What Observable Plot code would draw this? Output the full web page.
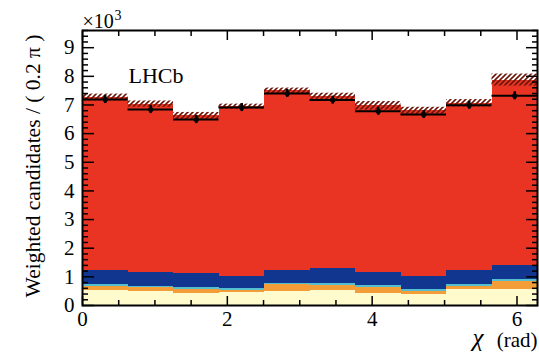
<!DOCTYPE html>
<html><head><meta charset="utf-8">
<script src="https://cdn.jsdelivr.net/npm/d3@7"></script>
<script src="https://cdn.jsdelivr.net/npm/@observablehq/plot@0.6"></script>
<style>body{margin:0;background:#fff} svg{display:block}</style>
</head><body><div id="chart"></div>
<script>
// chi bins of width 0.2*pi, values in units of 10^3
const binWidth = 0.2 * Math.PI;
const binIndex = [0,1,2,3,4,5,6,7,8,9];
const creamVals  = [0.53, 0.48, 0.43, 0.45, 0.48, 0.54, 0.41, 0.40, 0.55, 0.56];
const orangeVals = [0.14, 0.16, 0.12, 0.08, 0.25, 0.17, 0.23, 0.08, 0.11, 0.27];
const cyanVals   = [0.06, 0.04, 0.07, 0.06, 0.05, 0.05, 0.05, 0.07, 0.06, 0.07];
const blueVals   = [0.49, 0.46, 0.48, 0.43, 0.44, 0.52, 0.47, 0.46, 0.50, 0.50];
const fitTotal   = [7.26, 7.03, 6.62, 6.94, 7.49, 7.30, 6.97, 6.80, 7.06, 7.87];
const fitErr     = [0.12, 0.11, 0.12, 0.09, 0.10, 0.11, 0.15, 0.12, 0.13, 0.21];
const dataVals   = [7.19, 6.84, 6.49, 6.91, 7.40, 7.17, 6.78, 6.67, 6.99, 7.32];
const dataErr    = [0.14, 0.14, 0.14, 0.14, 0.14, 0.14, 0.14, 0.14, 0.14, 0.14];
const yMajor = [0,1,2,3,4,5,6,7,8,9];
const xMajor = [0,2,4,6];
const xMinor = [0.5,1,1.5,2.5,3,3.5,4.5,5,5.5];
const yMinor = d3.range(0, 9.61, 0.2).map(v => +v.toFixed(1)).filter(v => !Number.isInteger(v));
const layerColors = ["#fffbcc", "#f29d38", "#55bfd0", "#10368f"];
const fitColor = "#e93424";

const layerVals = [creamVals, orangeVals, cyanVals, blueVals];
const layers = layerVals.map(() => []);
const redRows = [], pts = [];
binIndex.forEach(i => {
  let base = 0;
  const x1 = i * binWidth, x2 = (i + 1) * binWidth;
  layerVals.forEach((arr, k) => {
    layers[k].push({x1, x2, y1: base, y2: base + arr[i]});
    base += arr[i];
  });
  redRows.push({x1, x2, y1: base, y2: fitTotal[i], h1: fitTotal[i] - fitErr[i], h2: fitTotal[i] + fitErr[i]});
  pts.push({x1, x2, xc: (x1 + x2) / 2, v: dataVals[i], lo: dataVals[i] - dataErr[i], hi: dataVals[i] + dataErr[i]});
});

const tickAxes = [];
for (const anchor of ["left", "right"]) {
  tickAxes.push(Plot.axisY(yMajor, {anchor, tickSize: -12, fill: "none", strokeWidth: 1.5, label: null}));
  tickAxes.push(Plot.axisY(yMinor, {anchor, tickSize: -6, fill: "none", strokeWidth: 1.5, label: null}));
}
for (const anchor of ["bottom", "top"]) {
  tickAxes.push(Plot.axisX(xMajor, {anchor, tickSize: -9, fill: "none", strokeWidth: 1.5, label: null}));
  tickAxes.push(Plot.axisX(xMinor, {anchor, tickSize: -5, fill: "none", strokeWidth: 1.5, label: null}));
}

const chart = Plot.plot({
  width: 539, height: 352,
  marginLeft: 82, marginRight: 2, marginTop: 30, marginBottom: 47,
  x: {domain: [0, 2 * Math.PI]},
  y: {domain: [0, 9.6]},
  style: {fontFamily: "Liberation Serif", fontSize: "20px", color: "black", background: "white"},
  marks: [
    ...layers.map((rows, k) => Plot.rect(rows, {x1: "x1", x2: "x2", y1: "y1", y2: "y2", fill: layerColors[k], shapeRendering: "crispEdges"})),
    Plot.rect(redRows, {x1: "x1", x2: "x2", y1: "y1", y2: "y2", fill: fitColor, shapeRendering: "crispEdges"}),
    Plot.rect(redRows, {x1: "x1", x2: "x2", y1: "h1", y2: "h2", fill: "url(#hatch)"}),
    Plot.ruleY(pts, {x1: "x1", x2: "x2", y: "v", stroke: "black", strokeWidth: 2}),
    Plot.ruleX(pts, {x: "xc", y1: "lo", y2: "hi", stroke: "black", strokeWidth: 2.5}),
    Plot.dot(pts, {x: "xc", y: "v", r: 2.6, fill: "black"}),
    ...tickAxes,
    Plot.axisY(yMajor, {anchor: "left", tickSize: 0, tickPadding: 8, label: null, fontSize: 21}),
    Plot.axisX(xMajor, {anchor: "bottom", tickSize: 0, tickPadding: 6, label: null, fontSize: 21}),
    Plot.frame({stroke: "black", strokeWidth: 2}),
    Plot.text(["Weighted candidates / ( 0.2 π )"], {frameAnchor: "left", textAnchor: "middle", rotate: -90, dx: -49, dy: -2, fontSize: 21.5}),
    Plot.text(["(rad)"], {frameAnchor: "bottom-right", textAnchor: "end", dy: 41, fontSize: 21}),
    Plot.text(["χ"], {frameAnchor: "bottom-right", textAnchor: "end", dx: -54, dy: 40, fontSize: 25, fontStyle: "italic"}),
    Plot.text(["×10"], {frameAnchor: "top-left", textAnchor: "start", lineAnchor: "bottom", dy: -3, fontSize: 20}),
    Plot.text(["3"], {frameAnchor: "top-left", textAnchor: "start", lineAnchor: "bottom", dx: 32, dy: -11, fontSize: 14}),
    Plot.text(["LHCb"], {frameAnchor: "top-left", textAnchor: "start", dx: 46, dy: 37, fontSize: 22})
  ]
});
chart.insertAdjacentHTML("afterbegin",
  '<defs><pattern id="hatch" patternUnits="userSpaceOnUse" width="5" height="5">' +
  '<path d="M-1,1l2,-2M0,5l5,-5M4,6l2,-2" stroke="#6e1409" stroke-width="1.6"/></pattern></defs>');
document.getElementById("chart").appendChild(chart);
</script>
</body></html>
